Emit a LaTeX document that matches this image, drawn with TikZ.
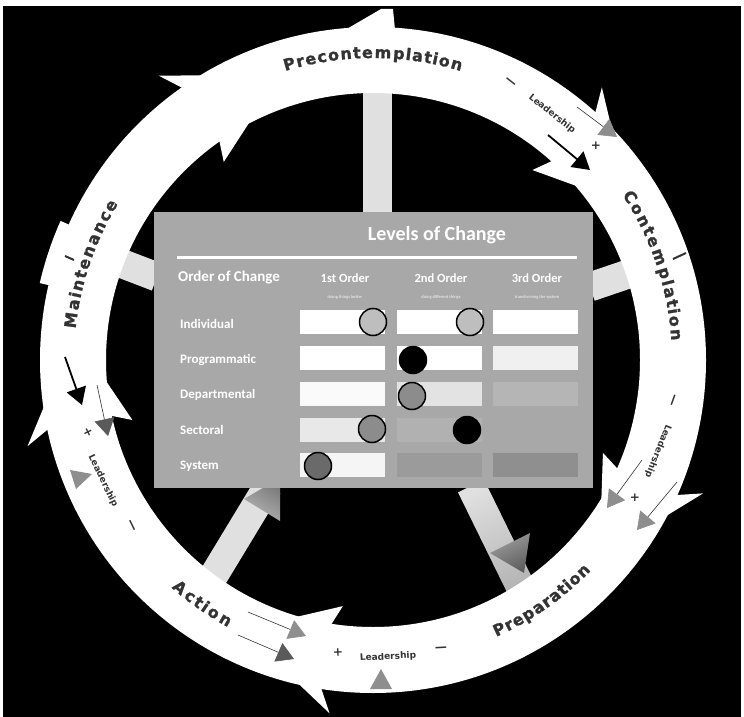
\documentclass[tikz,border=0pt]{standalone}
\usepackage{fontspec}
\usetikzlibrary{arrows.meta,decorations.text,calc}
\newfontfamily\stageboldfont{DejaVu Sans}[UprightFont={* Bold}, FakeBold=1.2]
\newfontfamily\leadfont{DejaVu Sans}[UprightFont={* Bold}]
\newfontfamily\tabfont{Carlito}
\definecolor{stagec}{HTML}{333333}
\definecolor{tablebg}{HTML}{A8A8A8}
\definecolor{spokec}{HTML}{E0E0E0}
\definecolor{lgray}{HTML}{BEBEBE}
\definecolor{mgray}{HTML}{8C8C8C}
\definecolor{dgray}{HTML}{6A6A6A}
\definecolor{arrgray}{HTML}{8E8E8E}
\definecolor{arrdark}{HTML}{5A5A5A}
\definecolor{headgray}{HTML}{969696}
\definecolor{headdark}{HTML}{5E5E5E}
\begin{document}
\begin{tikzpicture}[x=1pt,y=-1pt,
  lead/.style={font=\leadfont\fontsize{9}{10}\selectfont, text=stagec, inner sep=0pt},
  sign/.style={font=\leadfont\fontsize{12}{12}\selectfont, text=stagec, inner sep=0pt},
  rowlab/.style={font=\tabfont\bfseries\fontsize{13}{15}\selectfont, text=white, inner sep=0pt, anchor=west},
  hdr/.style={font=\tabfont\bfseries\fontsize{12.5}{14}\selectfont, text=white, inner sep=0pt},
  sublab/.style={font=\tabfont\fontsize{4.5}{5}\selectfont, text=white!92!gray, inner sep=0pt},
  cell/.style={minimum width=85pt, minimum height=24pt, inner sep=0pt, draw=none},
  dot/.style={circle, draw=black, line width=1.5pt, minimum size=27pt, inner sep=0pt},
  spoke/.style={line width=29pt, draw=spokec},
  ringmark/.style={draw=stagec, line width=2pt},
  garrow/.style={draw=black!80, line width=0.6pt, -{Triangle[length=17pt,width=20pt,color=arrgray]}},
  darrow/.style={draw=black!80, line width=0.6pt, -{Triangle[length=17pt,width=20pt,color=arrdark]}},
  karrow/.style={draw=black, line width=1.8pt, -{Triangle[length=17pt,width=20pt]}},
  stagedeco/.style={decorate, decoration={text effects along path, text={#1},
     text effects/.cd, text along path, fit text to path,
     characters={font=\stageboldfont\fontsize{16}{18}\selectfont, text=stagec}}}
]
\useasboundingbox (0,0) rectangle (744,717);
\fill[white] (0,0) rectangle (744,717);
\fill[black] (3,6) rectangle (741,717);
\coordinate (O) at (373,360);

% spokes
\coordinate (sTa) at (377.5,218); \coordinate (sTb) at (377.5,85);
\coordinate (sRa) at (590,287);   \coordinate (sRb) at (640,270);
\coordinate (sLa) at (157,277);   \coordinate (sLb) at (110,259);
\draw[spoke] (sTa) -- (sTb);
\draw[spoke] (sRa) -- (sRb);
\draw[spoke] (sLa) -- (sLb);
% bottom-left spoke (arrow into the table)
\fill[spokec] (280.3,493.5) -- (255.7,478.5) -- (192.7,582.5) -- (217.3,597.5) -- cycle;
\shade[top color=headgray!80!black, bottom color=headgray!70!white, shading angle=-32]
  (280,478) -- (280,521) -- (244,499) -- cycle;
% bottom-right spoke (arrow towards Preparation)
\shade[top color=spokec, bottom color=spokec!55!gray, shading angle=26]
  (484,479.6) -- (458,492.4) -- (509,596.4) -- (535,583.6) -- cycle;
\shade[top color=headdark!60!white, bottom color=headdark, shading angle=26]
  (530,533) -- (490,553) -- (524,573) -- cycle;

% ring
\fill[white, even odd rule] (O) circle[radius=333] (O) circle[radius=267];
\foreach \t in {125,48,-24,-99,-168}{
  \fill[white] ($(O)+({-(\t)-2}:356)$) -- ($(O)+({-(\t)+17}:300)$) -- ($(O)+({-(\t)-2}:248)$)
     -- ($(O)+({-(\t)}:268)$) -- ($(O)+({-(\t)}:332)$) -- cycle;
}
% small tabs on the ring outline
\fill[white] (345,30) -- (381,9) -- (393,9) -- (395,30) -- cycle;
\fill[white] ($(O)+(-156:330)$) -- ($(O)+(-156:342)$) arc[start angle=-156, end angle=-167, radius=342] -- ($(O)+(-167:330)$) -- cycle;
\coordinate (mk1a) at (65,256); \coordinate (mk1b) at (74,260);
\coordinate (mk2a) at (673,259); \coordinate (mk2b) at (686,253);
\draw[ringmark] (mk1a) -- (mk1b);
\draw[ringmark] (mk2a) -- (mk2b);

% table
\node[fill=tablebg, minimum width=439pt, minimum height=276pt, inner sep=0pt] (tbl) at (373.5,350) {};
\node[font=\tabfont\bfseries\fontsize{20}{22}\selectfont, text=white, inner sep=0pt] (title) at (437,235) {Levels of Change};
\coordinate (ruleA) at (177,257); \coordinate (ruleB) at (577,257);
\draw[white, line width=3pt] (ruleA) -- (ruleB);
\node[hdr, font=\tabfont\bfseries\fontsize{15}{17}\selectfont] (ooc) at (229,278) {Order of Change};
\node[hdr] (h1) at (345,278) {1st Order};
\node[hdr] (h2) at (441,278) {2nd Order};
\node[hdr] (h3) at (537,278) {3rd Order};
\node[sublab] (s1) at (345,297) {doing things better};
\node[sublab] (s2) at (441,297) {doing different things};
\node[sublab] (s3) at (537,297) {transforming the system};

\node[rowlab] (rw1) at (180,324) {Individual};
\node[rowlab] (rw2) at (180,360) {Programmatic};
\node[rowlab] (rw3) at (180,395) {Departmental};
\node[rowlab] (rw4) at (180,430) {Sectoral};
\node[rowlab] (rw5) at (180,466) {System};

% cells
\node[cell, fill=white] (c11) at (342.5,322) {};
\node[cell, fill=white] (c12) at (439.5,322) {};
\node[cell, fill=white] (c13) at (535,322) {};
\node[cell, fill=white] (c21) at (342.5,358) {};
\node[cell, fill=white] (c22) at (439.5,358) {};
\node[cell, fill=white!88!gray] (c23) at (535,358) {};
\node[cell, fill=white!96!gray] (c31) at (342.5,394) {};
\node[cell, fill=white!78!gray] (c32) at (439.5,394) {};
\node[cell, fill=tablebg!85!white] (c33) at (535,394) {};
\node[cell, fill=white!82!gray] (c41) at (342.5,430) {};
\node[cell, fill=tablebg!90!white] (c42) at (439.5,430) {};
\node[cell, fill=white!92!gray] (c51) at (342.5,465) {};
\node[cell, fill=tablebg!92!black] (c52) at (439.5,465) {};
\node[cell, fill=tablebg!85!black] (c53) at (535,465) {};

% dots
\node[dot, fill=lgray] (d1) at (373,322) {};
\node[dot, fill=lgray] (d2) at (470,322) {};
\node[dot, fill=black] (d3) at (413,360) {};
\node[dot, fill=mgray] (d4) at (412,396) {};
\node[dot, fill=mgray] (d5) at (372,429) {};
\node[dot, fill=black] (d6) at (467,430) {};
\node[dot, fill=dgray] (d7) at (318,466) {};

% stage labels
\path[stagedeco=Precontemplation] ($(O)+(-106.9:302)$) arc[start angle=-106.9, end angle=-73.1, radius=302];
\path[stagedeco=Contemplation] ($(O)+(-33.5:299)$) arc[start angle=-33.5, end angle=-3.7, radius=299];
\path[stagedeco=Maintenance] ($(O)+(-174:299)$) arc[start angle=-174, end angle=-148.5, radius=299];
\path[stagedeco=Preparation] ($(O)+(66:303)$) arc[start angle=66, end angle=44, radius=303];
\path[stagedeco=Action] ($(O)+(131.5:304)$) arc[start angle=131.5, end angle=118.5, radius=304];

% leadership top-right
\node[sign, rotate=-38] (m1) at (510,83) {—};
\node[lead, rotate=-38] (L1) at (552,114) {Leadership};
\node[sign] (p1) at (596,146) {+};
\coordinate (g1a) at (577,107); \coordinate (g1b) at (617,137);
\coordinate (k1a) at (548,135); \coordinate (k1b) at (590,170);
\draw[garrow] (g1a) -- (g1b);
\draw[karrow] (k1a) -- (k1b);

% leadership right
\node[sign, rotate=-110] (m2) at (672,400) {—};
\node[lead, rotate=-112] (L2) at (658,451) {Leadership};
\node[sign] (p2) at (635,498) {+};
\coordinate (g2a) at (642,460); \coordinate (g2b) at (607,508);
\coordinate (g3a) at (677,482); \coordinate (g3b) at (637,530);
\draw[garrow] (g2a) -- (g2b);
\draw[garrow] (g3a) -- (g3b);

% leadership bottom
\node[sign, rotate=3] (p3) at (338,652) {+};
\node[lead, rotate=3] (L3) at (388,657) {Leadership};
\node[sign, rotate=3] (m3) at (441,649) {—};
\fill[arrgray] (381,669) -- (392,689) -- (370,689) -- cycle;
\coordinate (g4a) at (248,612); \coordinate (g4b) at (306,636);
\coordinate (g5a) at (238,635); \coordinate (g5b) at (294,659);
\draw[garrow] (g4a) -- (g4b);
\draw[darrow] (g5a) -- (g5b);

% leadership left
\node[sign, rotate=-64] (p4) at (88,432) {+};
\node[lead, rotate=-64] (L4) at (103,481) {Leadership};
\node[sign, rotate=-64] (m4) at (131,526) {—};
\coordinate (k2a) at (65,357); \coordinate (k2b) at (82,405);
\coordinate (g6a) at (97,385); \coordinate (g6b) at (108,436);
\draw[karrow] (k2a) -- (k2b);
\draw[darrow] (g6a) -- (g6b);
\fill[arrgray] (70,470) -- (92,474) -- (76,489) -- cycle;
\end{tikzpicture}
\end{document}
